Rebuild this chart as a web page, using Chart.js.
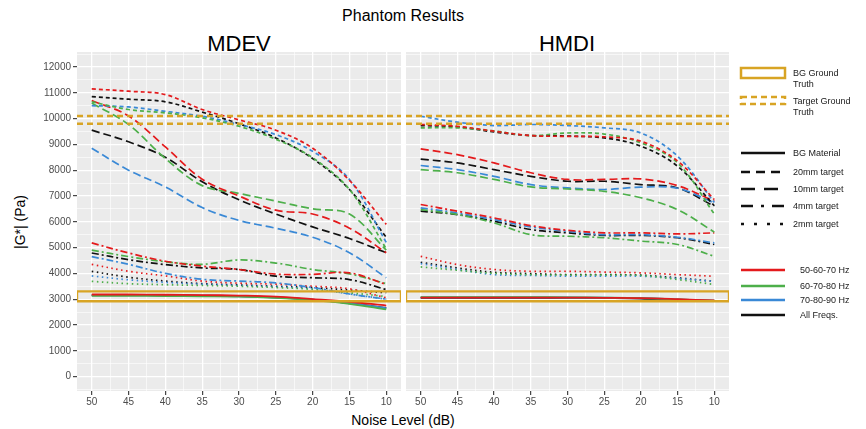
<!DOCTYPE html>
<html>
<head>
<meta charset="utf-8">
<script src="https://cdn.jsdelivr.net/npm/chart.js@4/dist/chart.umd.min.js"></script>
<style>
  body { margin: 0; background: #fff; width: 866px; height: 429px; position: relative; overflow: hidden;
         font-family: "Liberation Sans", Arial, sans-serif; }
  canvas { position: absolute; top: 0; }
  .txt { position: absolute; color: #000; white-space: nowrap; line-height: 1; }
  #legend { position: absolute; left: 0; top: 0; }
</style>
</head>
<body>
<div class="txt" style="left:403px;top:8px;transform:translateX(-50%);font-size:16px;">Phantom Results</div>
<div class="txt" style="left:239px;top:33px;transform:translateX(-50%);font-size:22px;">MDEV</div>
<div class="txt" style="left:567px;top:33px;transform:translateX(-50%);font-size:22px;">HMDI</div>
<div class="txt" style="left:403px;top:413px;transform:translateX(-50%);font-size:14px;">Noise Level (dB)</div>
<div class="txt" style="left:20px;top:222px;transform:translate(-50%,-50%) rotate(-90deg);font-size:14px;">|G*| (Pa)</div>

<canvas id="mdevChart" width="402" height="429" style="left:0px"></canvas>
<canvas id="hmdiChart" width="323" height="429" style="left:406px"></canvas>

<svg id="legend" width="866" height="429" font-family="Liberation Sans, Arial, sans-serif" font-size="9" fill="#1a1a1a"></svg>

<script>
// ---- data ----
const noiseLevels = [50, 45, 40, 35, 30, 25, 20, 15, 10];
const xMajorTicks = [50, 45, 40, 35, 30, 25, 20, 15, 10];
const xMinorTicks = [47.5, 42.5, 37.5, 32.5, 27.5, 22.5, 17.5, 12.5];
const yMajorTicks = [0, 1000, 2000, 3000, 4000, 5000, 6000, 7000, 8000, 9000, 10000, 11000, 12000];
const yMinorTicks = [-500, 500, 1500, 2500, 3500, 4500, 5500, 6500, 7500, 8500, 9500, 10500, 11500, 12500];

const freqBands = ['50-60-70 Hz', '60-70-80 Hz', '70-80-90 Hz', 'All Freqs.'];
const targetNames = ['BG Material', '20mm target', '10mm target', '4mm target', '2mm target'];

// ground truth bands (Pa)
const bgTruth = [2920, 3300];
const targetTruth = [9800, 10100];

// each array: [50-60-70, 60-70-80, 70-80-90, all freqs]
const mdevBg = [
    [3180, 3180, 3170, 3160, 3140, 3100, 3000, 2900, 2750],
    [3130, 3130, 3120, 3110, 3100, 3050, 2960, 2820, 2600],
    [3150, 3150, 3140, 3130, 3110, 3060, 2980, 2850, 2650],
    [3160, 3160, 3150, 3140, 3120, 3070, 2980, 2840, 2660]
];
const mdev20 = [
    [11150, 11060, 10930, 10350, 9950, 9550, 8850, 7600, 5900],
    [10650, 10350, 10220, 10030, 9700, 9200, 8480, 7250, 4950],
    [10500, 10450, 10280, 10090, 9770, 9380, 8730, 7640, 5200],
    [10850, 10750, 10650, 10250, 9800, 9250, 8450, 7250, 5400]
];
const mdev10 = [
    [10700, 10100, 8900, 7650, 7000, 6450, 6300, 5750, 4800],
    [10600, 9770, 8450, 7400, 7100, 6800, 6500, 6300, 4900],
    [8850, 8000, 7350, 6550, 6050, 5750, 5400, 4800, 3830],
    [9550, 9100, 8500, 7550, 6850, 6300, 5800, 5350, 4800]
];
const mdev4 = [
    [5180, 4790, 4470, 4280, 4150, 3970, 3960, 4020, 3570],
    [4900, 4650, 4450, 4350, 4520, 4400, 4150, 3980, 3600],
    [4650, 4350, 4000, 3770, 3700, 3630, 3450, 3200, 3000],
    [4790, 4530, 4340, 4210, 4150, 3890, 3830, 3760, 3370]
];
const mdev2 = [
    [4350, 4080, 3900, 3700, 3620, 3580, 3500, 3400, 3050],
    [3690, 3600, 3560, 3530, 3500, 3450, 3380, 3250, 3100],
    [3900, 3750, 3650, 3580, 3530, 3480, 3400, 3200, 3000],
    [4080, 3850, 3700, 3600, 3550, 3500, 3450, 3350, 3250]
];

const hmdiBg = [
    [3060, 3060, 3060, 3060, 3060, 3050, 3040, 3000, 2950],
    [3080, 3080, 3080, 3080, 3070, 3060, 3040, 2990, 2940],
    [3070, 3070, 3070, 3070, 3065, 3055, 3040, 2990, 2940],
    [3050, 3050, 3050, 3050, 3050, 3040, 3020, 2950, 2920]
];
const hmdi20 = [
    [9770, 9700, 9510, 9340, 9310, 9290, 9120, 8350, 6860],
    [9640, 9640, 9520, 9340, 9440, 9400, 9060, 8280, 6300],
    [10090, 9860, 9730, 9770, 9730, 9640, 9440, 8540, 6750],
    [9730, 9680, 9480, 9340, 9320, 9250, 8930, 8150, 6620]
];
const hmdi10 = [
    [8825, 8600, 8280, 7900, 7640, 7640, 7660, 7400, 6800],
    [8020, 7900, 7640, 7350, 7270, 7180, 6930, 6470, 5600],
    [8180, 8020, 7760, 7440, 7310, 7250, 7340, 7300, 6730],
    [8430, 8280, 8020, 7760, 7570, 7570, 7440, 7310, 6600]
];
const hmdi4 = [
    [6670, 6410, 6150, 5850, 5670, 5570, 5570, 5530, 5570],
    [6470, 6280, 5955, 5500, 5440, 5380, 5250, 5120, 4660],
    [6540, 6340, 6085, 5800, 5630, 5500, 5500, 5400, 5180],
    [6410, 6280, 6020, 5700, 5570, 5470, 5470, 5380, 5120]
];
const hmdi2 = [
    [4660, 4340, 4150, 4080, 4080, 4050, 4020, 3950, 3890],
    [4250, 4120, 4000, 3950, 3940, 3940, 3920, 3760, 3570],
    [4380, 4150, 3950, 3920, 3890, 3890, 3890, 3800, 3690],
    [4430, 4210, 4040, 3990, 3950, 3950, 3930, 3825, 3690]
];

// ---- styling ----
const FONT = '"Liberation Sans", Arial, sans-serif';
const GOLD = '#D8A424';
const freqColors = ['#E41A1C', '#4DAF4A', '#3A89D6', '#111111'];
const targetDash = [[], [4, 3], [8, 4], [7, 3, 2, 3], [1.5, 3.5]];
const X_MIN = 8, X_MAX = 52, Y_MIN = -560, Y_MAX = 12580;

const panelBg = {
    id: 'panelBg',
    beforeDraw(chart) {
        const { ctx, chartArea: a } = chart;
        ctx.save();
        ctx.fillStyle = '#EBEBEB';
        ctx.fillRect(a.left, a.top, a.right - a.left, a.bottom - a.top);
        ctx.restore();
    }
};

function buildDatasets(groups) {
    const sets = [];
    // ground truths first so they sit on top
    sets.push({
        label: 'Target Ground Truth',
        data: [{ x: X_MAX, y: targetTruth[1] }, { x: X_MIN, y: targetTruth[1] }],
        borderColor: GOLD, borderWidth: 2.6, borderDash: [6, 4], pointRadius: 0, tension: 0
    });
    sets.push({
        label: 'Target Ground Truth',
        data: [{ x: X_MAX, y: targetTruth[0] }, { x: X_MIN, y: targetTruth[0] }],
        borderColor: GOLD, borderWidth: 2.6, borderDash: [6, 4], pointRadius: 0, tension: 0
    });
    sets.push({
        label: 'BG Ground Truth',
        data: [
            { x: X_MAX, y: bgTruth[0] }, { x: X_MIN, y: bgTruth[0] },
            { x: X_MIN, y: bgTruth[1] }, { x: X_MAX, y: bgTruth[1] },
            { x: X_MAX, y: bgTruth[0] }
        ],
        borderColor: GOLD, borderWidth: 2.4, pointRadius: 0, tension: 0
    });
    groups.forEach((group, t) => {
        group.forEach((values, f) => {
            sets.push({
                label: targetNames[t] + ' ' + freqBands[f],
                data: noiseLevels.map((x, i) => ({ x: x, y: values[i] })),
                borderColor: freqColors[f],
                borderWidth: t === 0 ? 1.8 : 1.7,
                borderDash: targetDash[t],
                pointRadius: 0,
                tension: 0.35,
                fill: false
            });
        });
    });
    return sets;
}

function makePanel(id, groups, showY) {
    const ctx = document.getElementById(id).getContext('2d');
    const isMajorX = v => xMajorTicks.includes(v);
    const isMajorY = v => yMajorTicks.includes(v);
    return new Chart(ctx, {
        type: 'line',
        data: { datasets: buildDatasets(groups) },
        options: {
            responsive: false,
            animation: false,
            events: [],
            layout: { padding: { top: 52, right: showY ? 1 : 0, left: 0, bottom: 0 } },
            plugins: { legend: { display: false }, tooltip: { enabled: false } },
            scales: {
                x: {
                    type: 'linear', min: X_MIN, max: X_MAX, reverse: true,
                    afterBuildTicks: s => {
                        s.ticks = xMajorTicks.concat(xMinorTicks).sort((a, b) => b - a).map(v => ({ value: v }));
                    },
                    afterFit: s => { s.height = 38; },
                    border: { display: false },
                    grid: {
                        color: '#FFFFFF',
                        lineWidth: c => isMajorX(c.tick.value) ? 1.3 : 0.6,
                        tickColor: c => isMajorX(c.tick.value) ? '#333333' : 'rgba(0,0,0,0)',
                        tickWidth: 1.1,
                        tickLength: 4
                    },
                    ticks: {
                        autoSkip: false, maxRotation: 0, padding: 1, color: '#4D4D4D',
                        font: { family: FONT, size: 10 },
                        callback: v => isMajorX(v) ? String(v) : ''
                    }
                },
                y: {
                    type: 'linear', min: Y_MIN, max: Y_MAX,
                    afterBuildTicks: s => {
                        s.ticks = yMinorTicks.concat(yMajorTicks).sort((a, b) => a - b).map(v => ({ value: v }));
                    },
                    afterFit: s => { s.width = showY ? 77 : 0; },
                    border: { display: false },
                    grid: {
                        color: '#FFFFFF',
                        lineWidth: c => isMajorY(c.tick.value) ? 1.3 : 0.6,
                        tickColor: c => (showY && isMajorY(c.tick.value)) ? '#333333' : 'rgba(0,0,0,0)',
                        tickWidth: 1.1,
                        tickLength: 4,
                        drawTicks: showY
                    },
                    ticks: {
                        display: showY, autoSkip: false, padding: 2, color: '#4D4D4D',
                        font: { family: FONT, size: 10 },
                        callback: v => isMajorY(v) ? String(v) : ''
                    }
                }
            }
        },
        plugins: [panelBg]
    });
}

makePanel('mdevChart', [mdevBg, mdev20, mdev10, mdev4, mdev2], true);
makePanel('hmdiChart', [hmdiBg, hmdi20, hmdi10, hmdi4, hmdi2], false);

// ---- legend ----
const svg = document.getElementById('legend');
const NS = 'http://www.w3.org/2000/svg';
function el(tag, attrs, text) {
    const n = document.createElementNS(NS, tag);
    Object.entries(attrs).forEach(([k, v]) => n.setAttribute(k, v));
    if (text) n.textContent = text;
    svg.appendChild(n);
    return n;
}
const keyX1 = 741, keyX2 = 785, textX = 793, colorTextX = 800;

el('rect', { x: keyX1, y: 68, width: keyX2 - keyX1, height: 10, fill: 'none', stroke: GOLD, 'stroke-width': 2.5 });
el('text', { x: textX, y: 76 }, 'BG Ground');
el('text', { x: textX, y: 87 }, 'Truth');
el('rect', { x: keyX1, y: 97, width: keyX2 - keyX1, height: 7, fill: 'none', stroke: GOLD, 'stroke-width': 2.5, 'stroke-dasharray': '6,4' });
el('text', { x: textX, y: 104 }, 'Target Ground');
el('text', { x: textX, y: 115 }, 'Truth');

const legendDash = ['', '9,6', '14,9', '12,8,3,8', '3,10'];
const typeRows = [153, 172, 189, 206, 224];
targetNames.forEach((name, i) => {
    el('line', { x1: keyX1, x2: keyX2, y1: typeRows[i], y2: typeRows[i], stroke: '#111', 'stroke-width': 2.5,
                 'stroke-dasharray': legendDash[i] || 'none' });
    el('text', { x: textX, y: typeRows[i] + 3 }, name);
});

const colorRows = [270, 286, 300, 315];
freqBands.forEach((name, i) => {
    el('line', { x1: keyX1, x2: keyX2, y1: colorRows[i], y2: colorRows[i], stroke: freqColors[i], 'stroke-width': 2.5 });
    el('text', { x: colorTextX, y: colorRows[i] + 3 }, name);
});
</script>
</body>
</html>
